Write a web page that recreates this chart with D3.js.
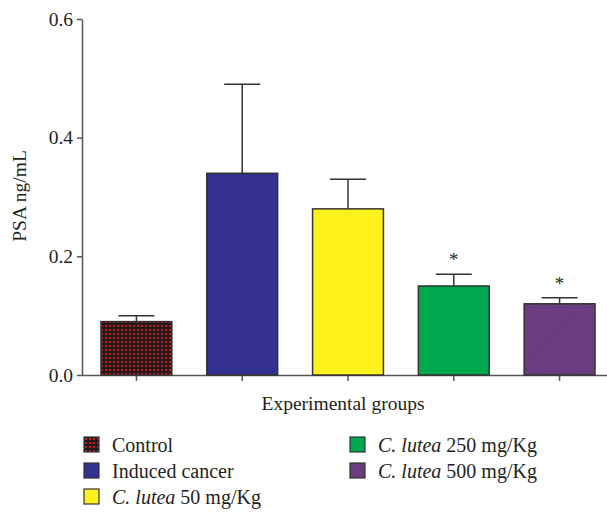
<!DOCTYPE html>
<html lang="en-US">
<head>
<meta charset="UTF-8">
<title>PSA chart</title>
<script src="https://d3js.org/d3.v7.min.js"></script>
<style>
  body { margin: 0; background: #fff; }
  text { font-family: "Liberation Serif", "DejaVu Serif", serif; fill: #231f20; }
  .axis path, .axis line { stroke: #555; stroke-width: 1.5px; }
  .axis text { font-size: 19.5px; }
  .bar { stroke: #333; stroke-width: 1.5px; }
  .err { stroke: #333; stroke-width: 1.5px; fill: none; }
</style>
</head>
<body>
<script>
// data
var groups = ["Control", "Induced cancer", "C. lutea 50 mg/Kg", "C. lutea 250 mg/Kg", "C. lutea 500 mg/Kg"];
var means  = [0.09, 0.34, 0.28, 0.15, 0.12];
var errs   = [0.01, 0.15, 0.05, 0.02, 0.01];
var signif = [false, false, false, true, true];
var fills  = ["url(#dots)", "#33308f", "#fff21c", "#00a94f", "url(#hatch)"];
var yTicks = [0.0, 0.2, 0.4, 0.6];

var W = 607, H = 517;
var svg = d3.select("body").append("svg").attr("width", W).attr("height", H);

var defs = svg.append("defs");
var dots = defs.append("pattern").attr("id", "dots").attr("patternUnits", "userSpaceOnUse")
    .attr("width", 4).attr("height", 4);
dots.append("rect").attr("width", 4).attr("height", 4).attr("fill", "#1c1a1a");
dots.append("rect").attr("x", 1).attr("y", 1).attr("width", 2).attr("height", 2).attr("fill", "#d2141c");

var hatch = defs.append("pattern").attr("id", "hatch").attr("patternUnits", "userSpaceOnUse")
    .attr("width", 2.5).attr("height", 2.5).attr("patternTransform", "rotate(45)");
hatch.append("rect").attr("width", 2.5).attr("height", 2.5).attr("fill", "#74428a");
hatch.append("rect").attr("width", 1).attr("height", 2.5).attr("fill", "#5e3470");

var x = d3.scaleBand().domain(groups).range([83, 613]).paddingInner(0.33).paddingOuter(0.17);
var y = d3.scaleLinear().domain([0, 0.6]).range([375, 19]);

// y axis
svg.append("g").attr("class", "axis").attr("transform", "translate(82,0)")
   .call(d3.axisLeft(y).tickValues(yTicks).tickFormat(d3.format(".1f")).tickSize(5).tickSizeOuter(0).tickPadding(4));

// x axis
var xa = svg.append("g").attr("class", "axis").attr("transform", "translate(0,375)")
   .call(d3.axisBottom(x).tickSize(6).tickSizeOuter(0).tickFormat(""));
xa.select(".domain").attr("d", "M82,0.5H607");

var data = groups.map(function(g, i) {
  return {g: g, v: means[i], e: errs[i], s: signif[i], f: fills[i]};
});

// error bars (upper only)
var eb = svg.selectAll(".errg").data(data).enter().append("g");
eb.append("line").attr("class", "err")
  .attr("x1", function(d) { return x(d.g) + x.bandwidth() / 2; })
  .attr("x2", function(d) { return x(d.g) + x.bandwidth() / 2; })
  .attr("y1", function(d) { return y(d.v); })
  .attr("y2", function(d) { return y(d.v + d.e); });
eb.append("line").attr("class", "err")
  .attr("x1", function(d) { return x(d.g) + x.bandwidth() / 2 - 18; })
  .attr("x2", function(d) { return x(d.g) + x.bandwidth() / 2 + 18; })
  .attr("y1", function(d) { return y(d.v + d.e); })
  .attr("y2", function(d) { return y(d.v + d.e); });

// bars
svg.selectAll(".bar").data(data).enter().append("rect")
  .attr("class", "bar")
  .attr("x", function(d) { return x(d.g); })
  .attr("y", function(d) { return y(d.v); })
  .attr("width", x.bandwidth())
  .attr("height", function(d) { return y(0) - y(d.v); })
  .attr("fill", function(d) { return d.f; });

// significance stars
svg.selectAll(".star").data(data.filter(function(d) { return d.s; })).enter().append("text")
  .attr("x", function(d) { return x(d.g) + x.bandwidth() / 2; })
  .attr("y", function(d) { return y(d.v + d.e) - 8; })
  .attr("text-anchor", "middle")
  .style("font-size", "19px")
  .text("*");

// axis titles
svg.append("text")
  .attr("transform", "translate(26,196) rotate(-90)")
  .attr("text-anchor", "middle")
  .style("font-size", "19.5px")
  .text("PSA ng/mL");

svg.append("text")
  .attr("x", 343).attr("y", 410)
  .attr("text-anchor", "middle")
  .style("font-size", "19.5px")
  .text("Experimental groups");

// legend
var legPos = [[84, 445], [84, 471], [84, 497], [350, 445], [350, 471]];
var leg = svg.selectAll(".leg").data(data).enter().append("g")
  .attr("transform", function(d, i) { return "translate(" + legPos[i][0] + "," + legPos[i][1] + ")"; });
leg.append("rect").attr("x", 0).attr("y", -8).attr("width", 15).attr("height", 15)
  .attr("fill", function(d) { return d.f; }).attr("stroke", "#333").attr("stroke-width", 1.2);
var lt = leg.append("text").attr("x", 28).attr("y", 7).style("font-size", "20px");
lt.each(function(d) {
  var t = d3.select(this);
  if (d.g.indexOf("C. lutea") === 0) {
    t.append("tspan").style("font-style", "italic").text("C. lutea");
    t.append("tspan").text(d.g.slice(8));
  } else {
    t.text(d.g);
  }
});
</script>
</body>
</html>
